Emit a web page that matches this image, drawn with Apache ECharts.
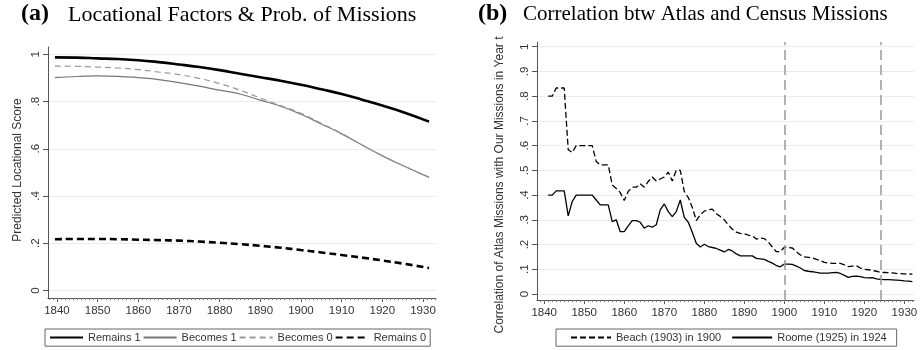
<!DOCTYPE html>
<html><head><meta charset="utf-8">
<script src="https://cdn.jsdelivr.net/npm/echarts@6/dist/echarts.min.js"></script>
<style>html,body{margin:0;padding:0;background:#fff}#c{width:922px;height:350px}</style>
</head><body><div id="c"></div>
<script>
// ---- Panel (a) data ----
const leftYears = [1839.5, 1845, 1850, 1855, 1860, 1865, 1870, 1875, 1880, 1885, 1890, 1895, 1900, 1905, 1910, 1915, 1920, 1925, 1931.5];
const remains1 = [.987, .986, .983, .980, .975, .967, .957, .946, .933, .918, .903, .888, .871, .852, .832, .808, .783, .756, .715];
const becomes1 = [.901, .906, .909, .907, .901, .893, .880, .865, .848, .832, .806, .780, .746, .705, .663, .616, .570, .529, .479];
const becomes0 = [.950, .949, .946, .942, .935, .925, .914, .898, .876, .848, .815, .783, .750, .708, .665, .617, .571, .530, .480];
const remains0 = [.217, .218, .218, .217, .215, .213, .211, .207, .202, .196, .189, .181, .171, .161, .150, .139, .127, .114, .095];
const leftNames = ['Remains 1', 'Becomes 1', 'Becomes 0', 'Remains 0'];

// ---- Panel (b) data ----
const rightYears = [1841,1842,1843,1844,1845,1846,1847,1848,1849,1850,
  1851,1852,1853,1854,1855,1856,1857,1858,1859,1860,
  1861,1862,1863,1864,1865,1866,1867,1868,1869,1870,
  1871,1872,1873,1874,1875,1876,1877,1878,1879,1880,
  1881,1882,1883,1884,1885,1886,1887,1888,1889,1890,
  1891,1892,1893,1894,1895,1896,1897,1898,1899,1900,
  1901,1902,1903,1904,1905,1906,1907,1908,1909,1910,
  1911,1912,1913,1914,1915,1916,1917,1918,1919,1920,
  1921,1922,1923,1924,1925,1926,1927,1928,1929,1930,
  1931,1932];
const beach = [.80,.80,.833,.833,.833,.583,.572,.60,.60,.60,
  .60,.60,.536,.522,.522,.522,.441,.427,.41,.378,
  .415,.432,.432,.446,.432,.455,.473,.457,.465,.473,
  .493,.457,.50,.50,.415,.39,.35,.297,.32,.335,
  .34,.343,.325,.313,.30,.28,.262,.25,.245,.243,
  .238,.235,.222,.226,.224,.21,.19,.171,.171,.189,
  .188,.186,.171,.158,.15,.148,.146,.14,.135,.128,
  .125,.124,.124,.124,.118,.111,.113,.114,.105,.10,
  .098,.095,.092,.088,.087,.086,.085,.083,.082,.081,
  .081,.08];
const roome = [.40,.40,.417,.417,.417,.316,.374,.40,.40,.40,
  .40,.40,.38,.36,.36,.36,.293,.30,.252,.252,
  .275,.297,.297,.29,.266,.276,.27,.28,.34,.364,
  .333,.313,.333,.38,.31,.29,.25,.205,.19,.201,
  .192,.188,.184,.177,.17,.18,.174,.162,.154,.154,
  .154,.154,.144,.142,.14,.132,.125,.115,.11,.121,
  .121,.12,.113,.105,.095,.092,.09,.087,.084,.084,
  .084,.086,.087,.083,.075,.067,.071,.072,.07,.066,
  .065,.066,.061,.059,.058,.058,.057,.056,.055,.053,
  .052,.05];
const rightNames = ['Beach (1903) in 1900', 'Roome (1925) in 1924'];
const refYears = [1900, 1924];

// ---- Tick labels ----
const xTicks = [1840, 1850, 1860, 1870, 1880, 1890, 1900, 1910, 1920, 1930];
const xMinorTicks = [1838,1839,1840,1841,1842,1843,1844,1845,1846,1847,1848,1849,1850,1851,1852,1853,1854,1855,1856,1857,1858,1859,1860,1861,1862,1863,1864,1865,1866,1867,1868,1869,1870,1871,1872,1873,1874,1875,1876,1877,1878,1879,1880,1881,1882,1883,1884,1885,1886,1887,1888,1889,1890,1891,1892,1893,1894,1895,1896,1897,1898,1899,1900,1901,1902,1903,1904,1905,1906,1907,1908,1909,1910,1911,1912,1913,1914,1915,1916,1917,1918,1919,1920,1921,1922,1923,1924,1925,1926,1927,1928,1929,1930,1931,1932,1933];
const yTicksA = [0, 0.2, 0.4, 0.6, 0.8, 1];
const yTicksB = [0, 0.1, 0.2, 0.3, 0.4, 0.5, 0.6, 0.7, 0.8, 0.9, 1];

const pair = (xs, ys) => xs.map((x, i) => [x, ys[i]]);
function fmt(v) {
  if (Math.abs(v) < 1e-9) return '0';
  if (Math.abs(v - 1) < 1e-9) return '1';
  return String(+v.toFixed(2)).replace(/^0/, '');
}
const SANS = 'Liberation Sans';
const axisCol = '#555';
const lblStyle = {fontFamily: SANS, fontSize: 11.5, color: '#333'};
const gridLine = {show: true, lineStyle: {color: '#ececec', width: 1}};

function mainX(grid, min, max) {
  return {
    type: 'value', gridIndex: grid, position: 'bottom', min: min, max: max,
    axisLine: {show: true, onZero: false, lineStyle: {color: axisCol, width: 1}},
    axisTick: {show: true, customValues: xTicks, length: 4, lineStyle: {color: axisCol}},
    axisLabel: Object.assign({customValues: xTicks, margin: 7, formatter: v => String(v)}, lblStyle),
    splitLine: {show: false}
  };
}
function minorX(grid, min, max) {
  return {
    type: 'value', gridIndex: grid, position: 'bottom', min: min, max: max,
    axisLine: {show: false, onZero: false},
    axisTick: {show: true, customValues: xMinorTicks, length: 2, lineStyle: {color: '#777'}},
    axisLabel: {show: false},
    splitLine: {show: false}
  };
}
function mainY(grid, min, max, ticks) {
  return {
    type: 'value', gridIndex: grid, min: min, max: max,
    axisLine: {show: true, onZero: false, lineStyle: {color: axisCol, width: 1}},
    axisTick: {show: true, customValues: ticks, length: 5, lineStyle: {color: axisCol}},
    axisLabel: Object.assign({customValues: ticks, rotate: 90, margin: 6, formatter: fmt}, lblStyle),
    splitLine: gridLine
  };
}
const legendBase = {
  orient: 'horizontal', borderColor: '#666', borderWidth: 1, borderRadius: 0, itemHeight: 14,
  itemStyle: {opacity: 0},
  textStyle: {fontFamily: SANS, fontSize: 11, color: '#333'}
};

const chart = echarts.init(document.getElementById('c'), null, {renderer: 'canvas'});
chart.setOption({
  animation: false,
  backgroundColor: '#fff',
  grid: [
    {left: 48, top: 47, width: 388, height: 251},
    {left: 537, top: 42, width: 377, height: 258}
  ],
  xAxis: [
    mainX(0, 1837.8, 1933.2), minorX(0, 1837.8, 1933.2),
    mainX(1, 1838.2, 1932.4), minorX(1, 1838.2, 1932.4)
  ],
  yAxis: [
    mainY(0, -0.032, 1.031, yTicksA),
    mainY(1, -0.0243, 1.019, yTicksB)
  ],
  legend: [
    Object.assign({}, legendBase, {data: leftNames, left: 45, top: 329, padding: [3, 4], itemGap: 2, itemWidth: 33}),
    Object.assign({}, legendBase, {data: rightNames, left: 556, top: 329, padding: [3, 10, 3, 14], itemGap: 10, itemWidth: 40})
  ],
  graphic: [
    {type: 'text', left: 21, top: 2, style: {text: '(a)', font: 'bold 24px "Liberation Serif"', fill: '#000'}},
    {type: 'text', left: 68, top: 4, style: {text: 'Locational Factors & Prob. of Missions', font: '22px "Liberation Serif"', fill: '#000'}},
    {type: 'text', left: 478, top: 2, style: {text: '(b)', font: 'bold 24px "Liberation Serif"', fill: '#000'}},
    {type: 'text', left: 523, top: 4, style: {text: 'Correlation btw Atlas and Census Missions', font: '21px "Liberation Serif"', fill: '#000'}},
    {type: 'text', x: 18, y: 170, rotation: Math.PI / 2,
      style: {text: 'Predicted Locational Score', x: 0, y: 0, align: 'center', verticalAlign: 'middle', textAlign: 'center', textVerticalAlign: 'middle', font: '12px "Liberation Sans"', fill: '#333'}},
    {type: 'text', x: 500, y: 185, rotation: Math.PI / 2,
      style: {text: 'Correlation of Atlas Missions with Our Missions in Year t', x: 0, y: 0, align: 'center', verticalAlign: 'middle', textAlign: 'center', textVerticalAlign: 'middle', font: '12px "Liberation Sans"', fill: '#333'}}
  ],
  series: [
    {name: leftNames[0], type: 'line', xAxisIndex: 0, yAxisIndex: 0, smooth: true, symbol: 'none',
      data: pair(leftYears, remains1), itemStyle: {color: '#000'}, lineStyle: {color: '#000', width: 2.6}, z: 5},
    {name: leftNames[1], type: 'line', xAxisIndex: 0, yAxisIndex: 0, smooth: true, symbol: 'none',
      data: pair(leftYears, becomes1), itemStyle: {color: '#777'}, lineStyle: {color: '#777', width: 1.2}, z: 3},
    {name: leftNames[2], type: 'line', xAxisIndex: 0, yAxisIndex: 0, smooth: true, symbol: 'none',
      data: pair(leftYears, becomes0), itemStyle: {color: '#999'}, lineStyle: {color: '#999', width: 1.2, type: [6, 4]}, z: 4},
    {name: leftNames[3], type: 'line', xAxisIndex: 0, yAxisIndex: 0, smooth: true, symbol: 'none',
      data: pair(leftYears, remains0), itemStyle: {color: '#000'}, lineStyle: {color: '#000', width: 2.6, type: [7, 4]}, z: 5},
    {name: rightNames[0], type: 'line', xAxisIndex: 2, yAxisIndex: 1, symbol: 'none',
      data: pair(rightYears, beach), itemStyle: {color: '#000'}, lineStyle: {color: '#000', width: 1.3, type: [6, 3]}},
    {name: rightNames[1], type: 'line', xAxisIndex: 2, yAxisIndex: 1, symbol: 'none',
      data: pair(rightYears, roome), itemStyle: {color: '#000'}, lineStyle: {color: '#000', width: 1.3},
      markLine: {silent: true, symbol: ['none', 'none'], label: {show: false},
        lineStyle: {color: '#999', width: 1.5, type: [10, 5]},
        data: refYears.map(y => ({xAxis: y}))}}
  ]
});
</script></body></html>
